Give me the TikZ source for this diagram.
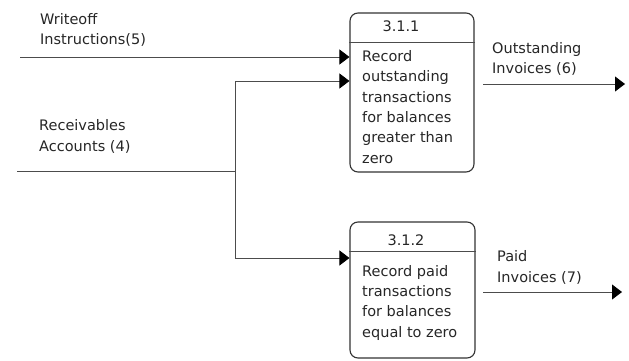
\documentclass[tikz,border=0pt]{standalone}
\usepackage{fontspec}
\setmainfont{DejaVu Sans}
\usetikzlibrary{arrows.meta}
\begin{document}
\begin{tikzpicture}[x=1pt,y=-1pt,
  lbl/.style={anchor=base west,align=left,inner sep=0pt,text=black!85,font=\fontsize{14.5}{20.3}\selectfont},
  procbox/.style={draw=black!80,line width=1.1pt,rounded corners=8pt},
  flow/.style={draw=black!70,line width=0.9pt},
  arr/.style={flow,-{Triangle[length=10pt,width=15pt,color=black]}}]
\useasboundingbox (0,0) rectangle (629,361);
% process boxes
\node[procbox,minimum width=124pt,minimum height=159pt,inner sep=0pt] (p1) at (412,92.5) {};
\node[procbox,minimum width=125pt,minimum height=136pt,inner sep=0pt] (p2) at (412.5,290) {};
\draw[flow,line width=1pt] (p1.west |- 0,43) coordinate (d1a) -- (p1.east |- 0,43) coordinate (d1b);
\draw[flow,line width=1pt] (p2.west |- 0,251) coordinate (d2a) -- (p2.east |- 0,251) coordinate (d2b);
\node[lbl,anchor=base] (n1) at (401,32) {3.1.1};
\node[lbl,anchor=base] (n2) at (406,245) {3.1.2};
% multi-line labels: base anchor = baseline of the last line
\node[lbl] (t1) at (362,163) {Record\\outstanding\\transactions\\for balances\\greater than\\zero};
\node[lbl] (t2) at (362,337) {Record paid\\transactions\\for balances\\equal to zero};
% external flows
\node[lbl] (lw) at (40,45) {Writeoff\\Instructions(5)};
\node[lbl] (lr) at (39,151) {Receivables\\Accounts (4)};
\node[lbl] (lo) at (492,74) {Outstanding\\Invoices (6)};
\node[lbl] (lp) at (497,282) {Paid\\Invoices (7)};
% connectors
\coordinate (w0) at (20,57);
\coordinate (r0) at (17,171);
\coordinate (rj) at (235,171);
\coordinate (o1s) at (483,84);
\coordinate (o1e) at (625,84);
\coordinate (o2s) at (483,292);
\coordinate (o2e) at (622,292);
\draw[arr] (w0) -- (p1.west |- w0);
\draw[flow] (r0) -- (rj);
\draw[arr] (rj) |- (p1.west |- 0,81);
\draw[arr] (rj) |- (p2.west |- 0,258);
\draw[arr] (o1s) -- (o1e);
\draw[arr] (o2s) -- (o2e);
\end{tikzpicture}
\end{document}
